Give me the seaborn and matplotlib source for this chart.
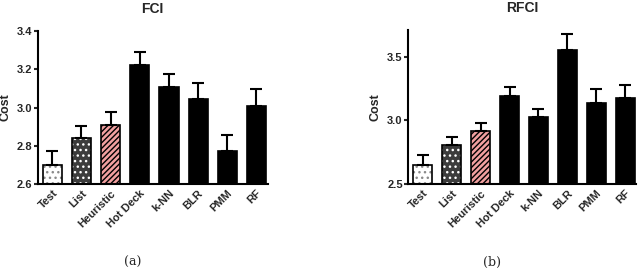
import matplotlib
matplotlib.use("Agg")
import matplotlib.pyplot as plt
import seaborn as sns
import pandas as pd
from matplotlib.patches import Rectangle

# Dados
methods = ["Test", "List", "Heuristic", "Hot Deck", "k-NN", "BLR", "PMM", "RF"]
fci_cost = [2.70, 2.843, 2.906, 3.221, 3.108, 3.045, 2.774, 3.008]
fci_err = [0.074, 0.061, 0.068, 0.071, 0.070, 0.085, 0.082, 0.089]
rfci_cost = [2.646, 2.805, 2.915, 3.192, 3.025, 3.555, 3.140, 3.176]
rfci_err = [0.079, 0.063, 0.063, 0.073, 0.065, 0.125, 0.109, 0.104]

fci_ticks = [2.6, 2.8, 3.0, 3.2, 3.4]
rfci_ticks = [2.5, 3.0, 3.5]

sns.set_theme(style="ticks")
plt.rcParams["font.family"] = ["Liberation Sans", "DejaVu Sans"]
plt.rcParams["hatch.linewidth"] = 1.0

fig = plt.figure(figsize=(6.4, 2.75), dpi=100)
ax1 = fig.add_axes([0.059, 0.331, 0.359, 0.556])
ax2 = fig.add_axes([0.638, 0.331, 0.356, 0.560])


def draw_panel(ax, cost, err, ticks, ylim, title):
    df = pd.DataFrame({"Method": methods, "Cost": cost})
    sns.barplot(data=df, x="Method", y="Cost", ax=ax, color="black",
                width=0.66, edgecolor="black", linewidth=1.2, errorbar=None)
    patches = ax.patches
    # estilos especiais
    styles = {
        0: ("white", "#8a8a8a", "..."),
        1: ("#3c3c3c", "white", "..."),
        2: ("#f2a0a0", "black", "//////"),
    }
    for i, (fc, hc, hatch) in styles.items():
        p = patches[i]
        p.set_facecolor(fc)
        p.set_edgecolor(hc)
        p.set_hatch(hatch)
        p.set_linewidth(0)
        ax.add_patch(Rectangle(p.get_xy(), p.get_width(), p.get_height(),
                               fill=False, edgecolor="black", linewidth=1.2,
                               zorder=p.get_zorder() + 0.1))
    xs = [p.get_x() + p.get_width() / 2 for p in patches[:len(methods)]]
    ax.errorbar(xs, cost, yerr=[[0] * len(err), err], fmt="none",
                ecolor="black", elinewidth=1.5, capsize=4, capthick=1.5,
                zorder=1)
    ax.set_ylim(*ylim)
    ax.set_xlim(-0.5, 7.38)
    ax.set_yticks(ticks)
    ax.set_yticklabels([f"{t:.1f}" for t in ticks], fontsize=8,
                       fontweight="bold")
    ax.set_xticks(range(len(methods)))
    ax.set_xticklabels(methods, rotation=45, ha="right",
                       rotation_mode="anchor", fontsize=8, fontweight="bold")
    ax.set_xlabel("")
    ax.set_ylabel("Cost", fontsize=9, fontweight="bold", labelpad=4)
    ax.set_title(title, fontsize=10, fontweight="bold", pad=13)
    ax.tick_params(axis="both", width=1.5, length=3, pad=1)
    ax.tick_params(axis="x", length=0, pad=3)
    for s in ["left", "bottom"]:
        ax.spines[s].set_linewidth(1.5)
        ax.spines[s].set_color("black")
    sns.despine(ax=ax)


draw_panel(ax1, fci_cost, fci_err, fci_ticks, (2.6, 3.4), "FCI")
draw_panel(ax2, rfci_cost, rfci_err, rfci_ticks, (2.5, 3.71), "RFCI")

fig.text(0.208, 0.044, "(a)", family="DejaVu Serif", fontsize=9,
         ha="center", va="center")
fig.text(0.769, 0.044, "(b)", family="DejaVu Serif", fontsize=9,
         ha="center", va="center")

fig.savefig("out.png", dpi=100)
